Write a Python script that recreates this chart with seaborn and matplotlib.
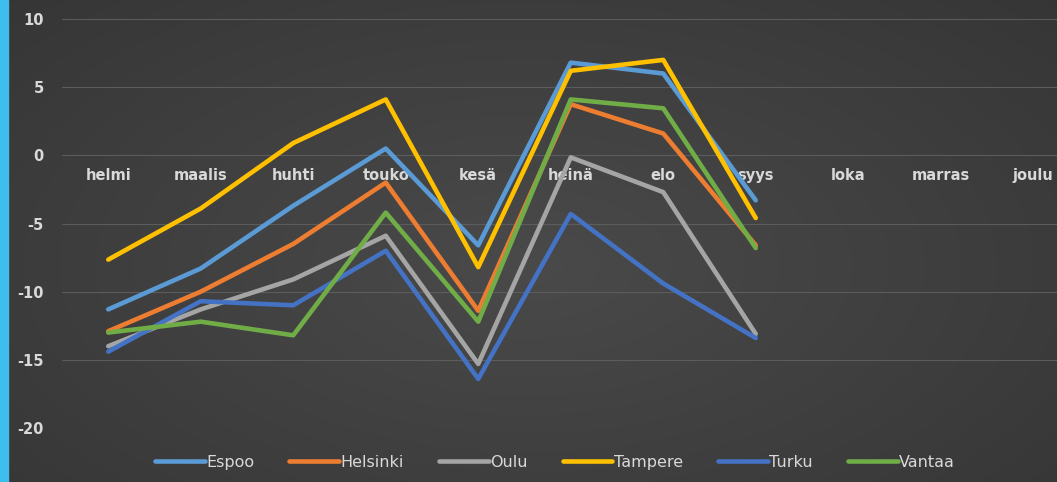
import numpy as np
import pandas as pd
import matplotlib
matplotlib.use("Agg")
import matplotlib.pyplot as plt
import seaborn as sns
from matplotlib.patches import Rectangle

months = ["helmi", "maalis", "huhti", "touko", "kesä", "heinä", "elo", "syys", "loka", "marras", "joulu"]
espoo = [-11.3, -8.3, -3.7, 0.5, -6.6, 6.8, 6.0, -3.3]
helsinki = [-12.9, -10.0, -6.5, -2.0, -11.4, 3.75, 1.6, -6.6]
oulu = [-14.0, -11.3, -9.1, -5.9, -15.3, -0.15, -2.7, -13.1]
tampere = [-7.65, -3.9, 0.9, 4.1, -8.2, 6.2, 7.0, -4.6]
turku = [-14.4, -10.7, -11.0, -7.0, -16.4, -4.3, -9.4, -13.4]
vantaa = [-13.0, -12.2, -13.2, -4.2, -12.2, 4.1, 3.45, -6.8]
yticks = [-20, -15, -10, -5, 0, 5, 10]

series = {"Espoo": espoo, "Helsinki": helsinki, "Oulu": oulu,
          "Tampere": tampere, "Turku": turku, "Vantaa": vantaa}
colors = {"Espoo": "#5B9BD5", "Helsinki": "#ED7D31", "Oulu": "#A5A5A5",
          "Tampere": "#FFC000", "Turku": "#4472C4", "Vantaa": "#70AD47"}

rows = []
for name, vals in series.items():
    for i, v in enumerate(vals):
        rows.append({"kk": i, "lämpötila": v, "kaupunki": name})
df = pd.DataFrame(rows)

sns.set_theme(style="dark")
plt.rcParams['font.family'] = ['DejaVu Sans']

W, H = 1057, 482
fig = plt.figure(figsize=(W / 100, H / 100), dpi=100)

# background gradient
bg = fig.add_axes([0, 0, 1, 1], zorder=-10)
yy, xx = np.mgrid[0:1:200j, 0:1:400j]
r = np.sqrt(((xx - 0.5) / 0.7) ** 2 + ((yy - 0.55) / 0.8) ** 2)
val = 0.29 - 0.08 * np.clip(r, 0, 1.3)
bg.imshow(np.dstack([val, val, val]), aspect="auto", extent=[0, 1, 0, 1])
bg.axis("off")
fig.patches.append(Rectangle((0, 0), 8 / W, 1, transform=fig.transFigure,
                             color="#3DBEEF", zorder=5))

left = 62 / W
right = 1079.5 / W
bottom = 1 - 428 / H
top = 1 - 19 / H
ax = fig.add_axes([left, bottom, right - left, top - bottom])
ax.set_facecolor("none")

sns.lineplot(data=df, x="kk", y="lämpötila", hue="kaupunki", palette=colors,
             linewidth=3.3, ax=ax, legend=True, solid_capstyle="round")

ax.spines['bottom'].set_position(('data', 0))
for s in ax.spines.values():
    s.set_visible(False)
ax.set_xlim(-0.5, len(months) - 0.5)
ax.set_ylim(-20, 10)
ax.set_yticks(yticks)
ax.set_yticklabels([str(t) for t in yticks])
ax.set_xticks(range(len(months)))
ax.set_xticklabels(months)
ax.tick_params(axis="x", length=0, pad=9, labelcolor="#D9D9D9", labelsize=10.5)
ax.tick_params(axis="y", length=0, pad=13, labelcolor="#D9D9D9", labelsize=10.5)
for lab in ax.get_xticklabels() + ax.get_yticklabels():
    lab.set_fontweight("bold")
ax.grid(axis="y", color="#5C5C5C", linewidth=0.8)
ax.grid(axis="x", visible=False)
ax.set_xlabel("")
ax.set_ylabel("")

handles, labels = ax.get_legend_handles_labels()
ax.get_legend().remove()
leg = fig.legend(handles, labels, loc="center", bbox_to_anchor=(555 / W, 0.041),
                 ncol=6, frameon=False, handlelength=3.1, handletextpad=0.1,
                 columnspacing=2.2, fontsize=11.5)
for t in leg.get_texts():
    t.set_color("#D9D9D9")
for l in leg.get_lines():
    l.set_linewidth(3.3)

fig.savefig("out.png", dpi=100)
